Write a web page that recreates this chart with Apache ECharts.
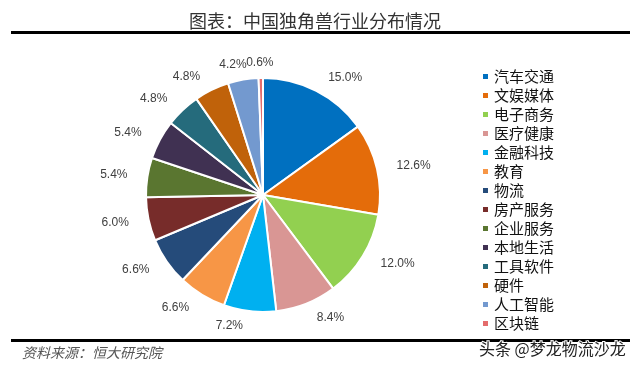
<!DOCTYPE html>
<html><head><meta charset="utf-8">
<script src="https://cdn.jsdelivr.net/npm/echarts@6/dist/echarts.min.js"></script>
<style>html,body{margin:0;padding:0;background:#fff}#c{width:640px;height:368px}</style>
</head><body><div id="c"></div>
<script>
const categories = ['汽车交通','文娱媒体','电子商务','医疗健康','金融科技','教育','物流','房产服务','企业服务','本地生活','工具软件','硬件','人工智能','区块链'];
const values = [15.0,12.6,12.0,8.4,7.2,6.6,6.6,6.0,5.4,5.4,4.8,4.8,4.2,0.6];
const colors = ['#0070C0','#E46C0A','#92D050','#D99694','#00B0F0','#F79646','#254B7A','#772C2A','#5A7630','#403152','#256B7C','#C0620A','#7399CF','#E46C6C'];
const chart = echarts.init(document.getElementById('c'));
chart.setOption({
  animation:false,
  color: colors,
  title:{text:'图表：中国独角兽行业分布情况',left:310,textAlign:'center',top:7,textStyle:{fontFamily:'Noto Sans CJK SC',fontSize:18,fontWeight:'normal',color:'#333'}},
  legend:{orient:'vertical',left:476,top:64,itemWidth:7,itemHeight:7,itemGap:4,icon:'rect',
    textStyle:{fontFamily:'Noto Sans CJK SC',fontSize:15,color:'#111',height:15,lineHeight:15},
    data:categories},
  series:[{type:'pie',center:[263,195],radius:[0,117],startAngle:90,clockwise:true,avoidLabelOverlap:false,
    itemStyle:{borderColor:'#fff',borderWidth:2},
    label:{show:true,position:'outside',formatter:p=>p.value.toFixed(1)+'%',fontFamily:'Liberation Sans',fontSize:12,color:'#404040'},
    labelLine:{show:false,length:15,length2:0},
    labelLayout:function(p){
      if(p.dataIndex===12) return {dx:11,hideOverlap:false};
      if(p.dataIndex===13) return {dx:18,hideOverlap:false};
      return {hideOverlap:false};
    },
    data:categories.map((c,i)=>({name:c,value:values[i]}))}],
  graphic:[
    {type:'rect',shape:{x:11,y:31,width:619,height:3},style:{fill:'#000'}},
    {type:'rect',shape:{x:11,y:339,width:619,height:3},style:{fill:'#000'}},
    {type:'text',left:22,top:346,style:{text:'资料来源：恒大研究院',font:'italic 14px "Noto Sans CJK SC"',fill:'#555'}},
    {type:'text',left:478,top:340,style:{text:'头条 @梦龙物流沙龙',font:'16px "Noto Sans CJK SC"',fill:'#222',stroke:'#fff',lineWidth:2}}
  ]
});
</script></body></html>
